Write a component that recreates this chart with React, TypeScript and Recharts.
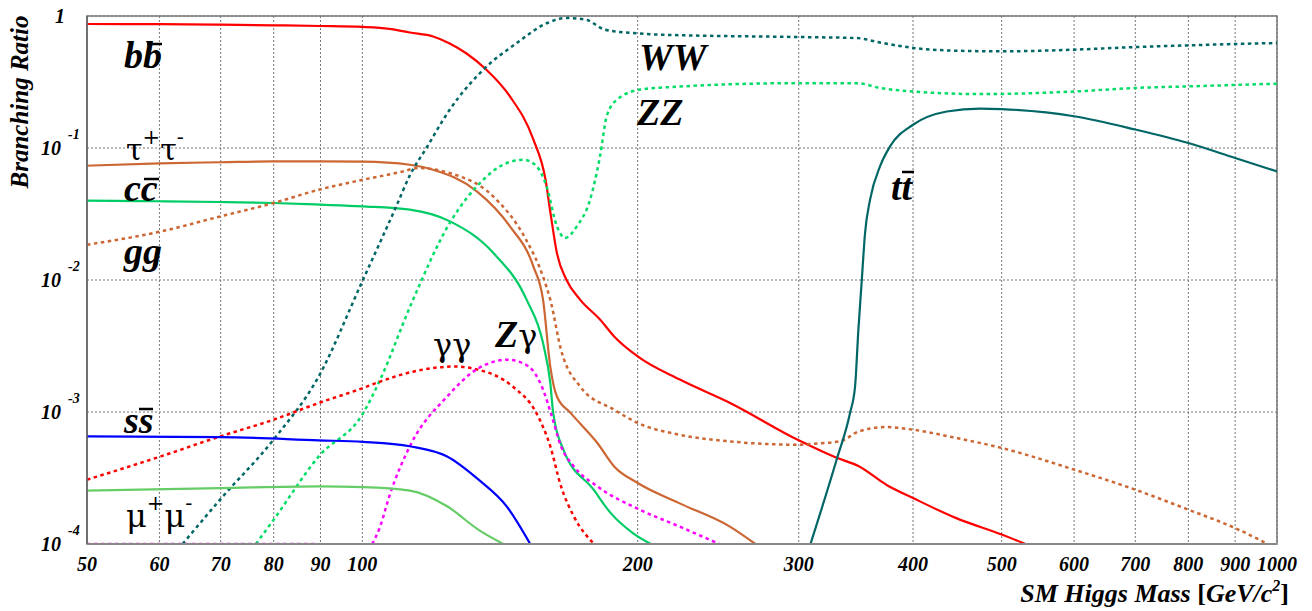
import React from 'react';
import { LineChart, Line, XAxis, YAxis, CartesianGrid, ReferenceArea } from 'recharts';

type Pt = [number, number | null];

// [Higgs mass (GeV), branching ratio]
const bb: Pt[] = [[50, 0.87], [60, 0.868], [70, 0.86], [80, 0.85], [90, 0.84], [100, 0.826], [107, 0.8], [112.7, 0.75], [119.5, 0.7], [124.6, 0.62], [130, 0.52], [136.2, 0.4], [145, 0.246], [153.8, 0.116], [158.6, 0.0575], [160.6, 0.032], [163.2, 0.016], [167.2, 0.01], [173, 0.0071], [182, 0.005], [188.5, 0.00374], [200, 0.00264], [222.4, 0.00176], [252.4, 0.00117], [300, 0.00061], [330, 0.00045], [348.6, 0.00039], [374.3, 0.00028], [400, 0.000223], [446, 0.000157], [500, 0.000118], [531, 0.0001]];
const tautau: Pt[] = [[50, 0.0734], [60, 0.0765], [70, 0.078], [80, 0.0792], [90, 0.0792], [100, 0.0788], [112.7, 0.0747], [119.5, 0.0685], [133.4, 0.047], [145, 0.0255], [153.8, 0.0127], [157.6, 0.0071], [160.5, 0.00221], [163.2, 0.00131], [169, 0.00098], [180.7, 0.000582], [188.5, 0.000387], [200, 0.00029], [222, 0.000204], [252, 0.000136], [269, 0.0001]];
const cc: Pt[] = [[50, 0.0399], [60, 0.0395], [70, 0.039], [80, 0.0383], [90, 0.0372], [100, 0.0361], [112.7, 0.0341], [124.7, 0.0278], [139.1, 0.016], [151.2, 0.0071], [157.6, 0.00333], [160.5, 0.00166], [161.7, 0.00098], [165.9, 0.000518], [179, 0.000258], [186.8, 0.000172], [197.6, 0.000121], [206.7, 0.0001]];
const gg: Pt[] = [[50, 0.0185], [60.2, 0.0233], [69.9, 0.0303], [80, 0.0383], [89.6, 0.0483], [100.2, 0.0575], [110.8, 0.0664], [115, 0.0705], [124.6, 0.0646], [139, 0.043], [151, 0.0202], [157.6, 0.0106], [160.5, 0.0071], [164.9, 0.00296], [173, 0.00156], [188.5, 0.00104], [200, 0.000826], [222, 0.000673], [252, 0.000599], [300, 0.000565], [312, 0.000575], [333, 0.0006], [349, 0.000713], [374, 0.00077], [400, 0.000734], [446, 0.000636], [500, 0.000534], [600, 0.000366], [700, 0.000258], [800, 0.000182], [900, 0.000132], [977, 0.0001]];
const ww: Pt[] = [[63.6, 0.0001], [69.9, 0.000217], [80, 0.00062], [89.6, 0.00186], [99.8, 0.0095], [108.9, 0.0361], [112.7, 0.062], [117.5, 0.1], [124.6, 0.195], [135.6, 0.392], [147.5, 0.624], [159.3, 0.885], [167.2, 0.966], [175.6, 0.937], [184.2, 0.787], [197.6, 0.743], [214.6, 0.72], [300, 0.693], [347.4, 0.68], [368, 0.63], [400, 0.573], [446, 0.546], [500, 0.54], [600, 0.556], [700, 0.582], [800, 0.599], [900, 0.614], [1000, 0.624]];
const zz: Pt[] = [[76.5, 0.0001], [80, 0.000153], [89.6, 0.000461], [100.2, 0.00098], [104.6, 0.00176], [113, 0.0065], [124.6, 0.027], [135.6, 0.0575], [141.4, 0.0726], [150, 0.0815], [155.1, 0.0726], [159, 0.0512], [163.2, 0.0255], [166.6, 0.0208], [171.6, 0.0255], [177.4, 0.0406], [181.9, 0.0864], [185, 0.174], [189.8, 0.232], [201.2, 0.277], [214.6, 0.288], [300, 0.31], [347.4, 0.31], [368, 0.285], [400, 0.268], [476, 0.256], [600, 0.268], [700, 0.285], [800, 0.293], [1000, 0.307]];
const tt: Pt[] = [[89.6, 0.0001], [259, 0.0001], [284, null], [309, 0.0001], [330, 0.000435], [341.3, 0.00098], [345.7, 0.00156], [348.6, 0.0042], [351.6, 0.01], [354.5, 0.0227], [359, 0.0406], [368.1, 0.0726], [377.6, 0.103], [400, 0.15], [435.5, 0.189], [473.6, 0.199], [500, 0.197], [600, 0.174], [700, 0.138], [800, 0.109], [900, 0.084], [1000, 0.0665]];
const gamgam: Pt[] = [[50, 0.000307], [60.2, 0.000461], [69.9, 0.000653], [80, 0.000875], [89.6, 0.00117], [100.2, 0.00152], [104.6, 0.0017], [113.9, 0.00203], [126, 0.00221], [134, 0.00209], [146, 0.00156], [155, 0.00098], [160.5, 0.00055], [164.9, 0.000273], [170.3, 0.000162], [179.2, 0.0001]];
const zgam: Pt[] = [[50, 0.0001], [89.6, 0.0001], [96, null], [102.5, 0.0001], [104.6, 0.000136], [107, 0.000229], [113, 0.00057], [123.8, 0.00131], [134, 0.00215], [144.3, 0.00249], [152, 0.00221], [157.6, 0.00148], [161.1, 0.00093], [164.9, 0.00055], [170.3, 0.000387], [180.7, 0.000273], [201, 0.000182], [222, 0.000136], [245.6, 0.0001]];
const ss: Pt[] = [[50, 0.000653], [69.9, 0.000646], [89.6, 0.00061], [100.2, 0.000594], [112.7, 0.00055], [123.8, 0.00046], [134, 0.000307], [143.8, 0.000193], [152.6, 0.0001]];
const mumu: Pt[] = [[50, 0.000254], [69.9, 0.000265], [89.6, 0.000273], [100.2, 0.00027], [112.7, 0.000254], [123.8, 0.000193], [134, 0.000128], [142.6, 0.0001]];

const xTicks = [50, 60, 70, 80, 90, 100, 200, 300, 400, 500, 600, 700, 800, 900, 1000];
const yTicks = [0.0001, 0.001, 0.01, 0.1, 1];
const minorTicks: number[] = [];
for (let e = -4; e < 0; e++) for (let k = 2; k <= 9; k++) minorTicks.push(k * Math.pow(10, e));

const series = [
  { key: 'bb', data: bb, color: '#ff0000', dotted: false },
  { key: 'tautau', data: tautau, color: '#cc6633', dotted: false },
  { key: 'cc', data: cc, color: '#00cc66', dotted: false },
  { key: 'gg', data: gg, color: '#cc6633', dotted: true },
  { key: 'ww', data: ww, color: '#006666', dotted: true },
  { key: 'zz', data: zz, color: '#00dd66', dotted: true },
  { key: 'tt', data: tt, color: '#006666', dotted: false },
  { key: 'gamgam', data: gamgam, color: '#ff0000', dotted: true },
  { key: 'zgam', data: zgam, color: '#ff00ff', dotted: true },
  { key: 'ss', data: ss, color: '#0000ff', dotted: false },
  { key: 'mumu', data: mumu, color: '#66cc66', dotted: false },
];

const toRows = (pts: Pt[]) => pts.map(([m, br]) => ({ m, br }));

const serif = '"Liberation Serif", "Times New Roman", serif';
const greek = '"DejaVu Serif", serif';
const bi = { fontFamily: serif, fontWeight: 700, fontStyle: 'italic' as const };

const XTick = ({ x, y, payload }: any) => (
  <text x={x} y={y + 27} textAnchor="middle" fontSize={20} fill="#000" {...bi}>
    {payload.value}
  </text>
);

const YTick = ({ x, y, payload }: any) => {
  const exp = Math.round(Math.log10(payload.value));
  if (exp === 0) {
    return <text x={x - 22} y={y + 7} textAnchor="end" fontSize={20} fill="#000" {...bi}>1</text>;
  }
  return (
    <g>
      <text x={x - 26} y={y + 7} textAnchor="end" fontSize={20} fill="#000" {...bi}>10</text>
      <text x={x - 19} y={y - 9} textAnchor="start" fontSize={14} fill="#000" {...bi}>{exp}</text>
    </g>
  );
};

const big = 38;
const gk = 30;
const sup = 21;

const Labels = () => (
  <svg width={1312} height={611} style={{ position: 'absolute', left: 0, top: 0, pointerEvents: 'none' }}>
    <g fill="#000" fontFamily={serif}>
      <text x={124} y={68} fontSize={big} {...bi}>bb</text>
      <line x1={147} x2={162} y1={44} y2={44} stroke="#000" strokeWidth={2.5} />
      <text x={126} y={160} fontSize={gk} fontFamily={greek}>
        τ<tspan dy={-16} fontSize={sup}>+</tspan><tspan dy={16} fontSize={gk}>τ</tspan><tspan dy={-16} fontSize={sup}>-</tspan>
      </text>
      <text x={124} y={201} fontSize={big} {...bi}>cc</text>
      <line x1={144} x2={159} y1={179} y2={179} stroke="#000" strokeWidth={2.5} />
      <text x={124} y={264} fontSize={big} {...bi}>gg</text>
      <text x={639} y={70} fontSize={big} {...bi}>WW</text>
      <text x={637} y={125} fontSize={big} {...bi}>ZZ</text>
      <text x={891} y={200} fontSize={big} {...bi}>tt</text>
      <line x1={902} x2={914} y1={172} y2={172} stroke="#000" strokeWidth={2.5} />
      <text x={433} y={356} fontSize={gk + 2} fontFamily={greek}>γγ</text>
      <text x={495} y={347} fontSize={big} {...bi}>
        Z<tspan fontFamily={greek} fontWeight={400} fontStyle="normal" fontSize={gk + 2}>γ</tspan>
      </text>
      <text x={124} y={433} fontSize={big} {...bi}>ss</text>
      <line x1={139} x2={153} y1={409} y2={409} stroke="#000" strokeWidth={2.5} />
      <text x={126} y={527} fontSize={gk + 2} fontFamily={greek}>
        μ<tspan dy={-17} fontSize={sup}>+</tspan><tspan dy={17} fontSize={gk + 2}>μ</tspan><tspan dy={-17} fontSize={sup}>-</tspan>
      </text>
      <text x={28} y={102} fontSize={25} textAnchor="middle" transform="rotate(-90 28 102)" {...bi}>
        Branching Ratio
      </text>
      <text x={1289} y={602} fontSize={26} textAnchor="end" {...bi}>
        SM Higgs Mass <tspan fontStyle="normal">[</tspan>GeV/c<tspan dy={-11} fontSize={16}>2</tspan><tspan dy={11} fontStyle="normal">]</tspan>
      </text>
    </g>
  </svg>
);

export default function App() {
  return (
    <div style={{ position: 'fixed', left: 0, top: 0, width: 1312, height: 611, background: '#fff' }}>
      <LineChart width={1312} height={611} margin={{ top: 16, right: 35, left: 27, bottom: 0 }}>
        <CartesianGrid stroke="#777" strokeDasharray="2 2" strokeWidth={1} />
        <XAxis
          dataKey="m"
          type="number"
          scale="log"
          domain={[50, 1000]}
          ticks={xTicks}
          allowDataOverflow
          height={67}
          tickSize={0}
          tickMargin={0}
          tickLine={false}
          axisLine={{ stroke: '#888', strokeWidth: 2 }}
          tick={<XTick />}
          interval={0}
        />
        <XAxis
          xAxisId="decade"
          dataKey="m"
          type="number"
          scale="log"
          domain={[50, 1000]}
          ticks={[100]}
          allowDataOverflow
          mirror
          tickSize={10}
          tick={false}
          tickLine={{ stroke: '#333', strokeWidth: 1.5 }}
          axisLine={false}
          interval={0}
        />
        <YAxis
          type="number"
          scale="log"
          domain={[0.0001, 1]}
          ticks={yTicks}
          allowDataOverflow
          width={60}
          tickSize={0}
          tickMargin={0}
          tickLine={false}
          axisLine={{ stroke: '#666', strokeWidth: 1.5 }}
          tick={<YTick />}
          interval={0}
        />
        <YAxis
          yAxisId="minor"
          type="number"
          scale="log"
          domain={[0.0001, 1]}
          ticks={minorTicks}
          allowDataOverflow
          mirror
          tickSize={6}
          tick={false}
          tickLine={{ stroke: '#444' }}
          axisLine={false}
          interval={0}
        />
        <YAxis
          yAxisId="major"
          type="number"
          scale="log"
          domain={[0.0001, 1]}
          ticks={yTicks}
          allowDataOverflow
          mirror
          tickSize={12}
          tick={false}
          tickLine={{ stroke: '#888', strokeWidth: 2 }}
          axisLine={false}
          interval={0}
        />
        <ReferenceArea x1={50} x2={1000} y1={0.0001} y2={1} fill="none" stroke="#777" strokeWidth={1.5} />
        {series.map((s) => (
          <Line
            key={s.key}
            data={toRows(s.data)}
            dataKey="br"
            type="monotone"
            stroke={s.color}
            strokeWidth={s.dotted ? 2.5 : 2.2}
            strokeDasharray={s.dotted ? '3.5 3.5' : undefined}
            dot={false}
            activeDot={false}
            isAnimationActive={false}
          />
        ))}
      </LineChart>
      <Labels />
    </div>
  );
}
